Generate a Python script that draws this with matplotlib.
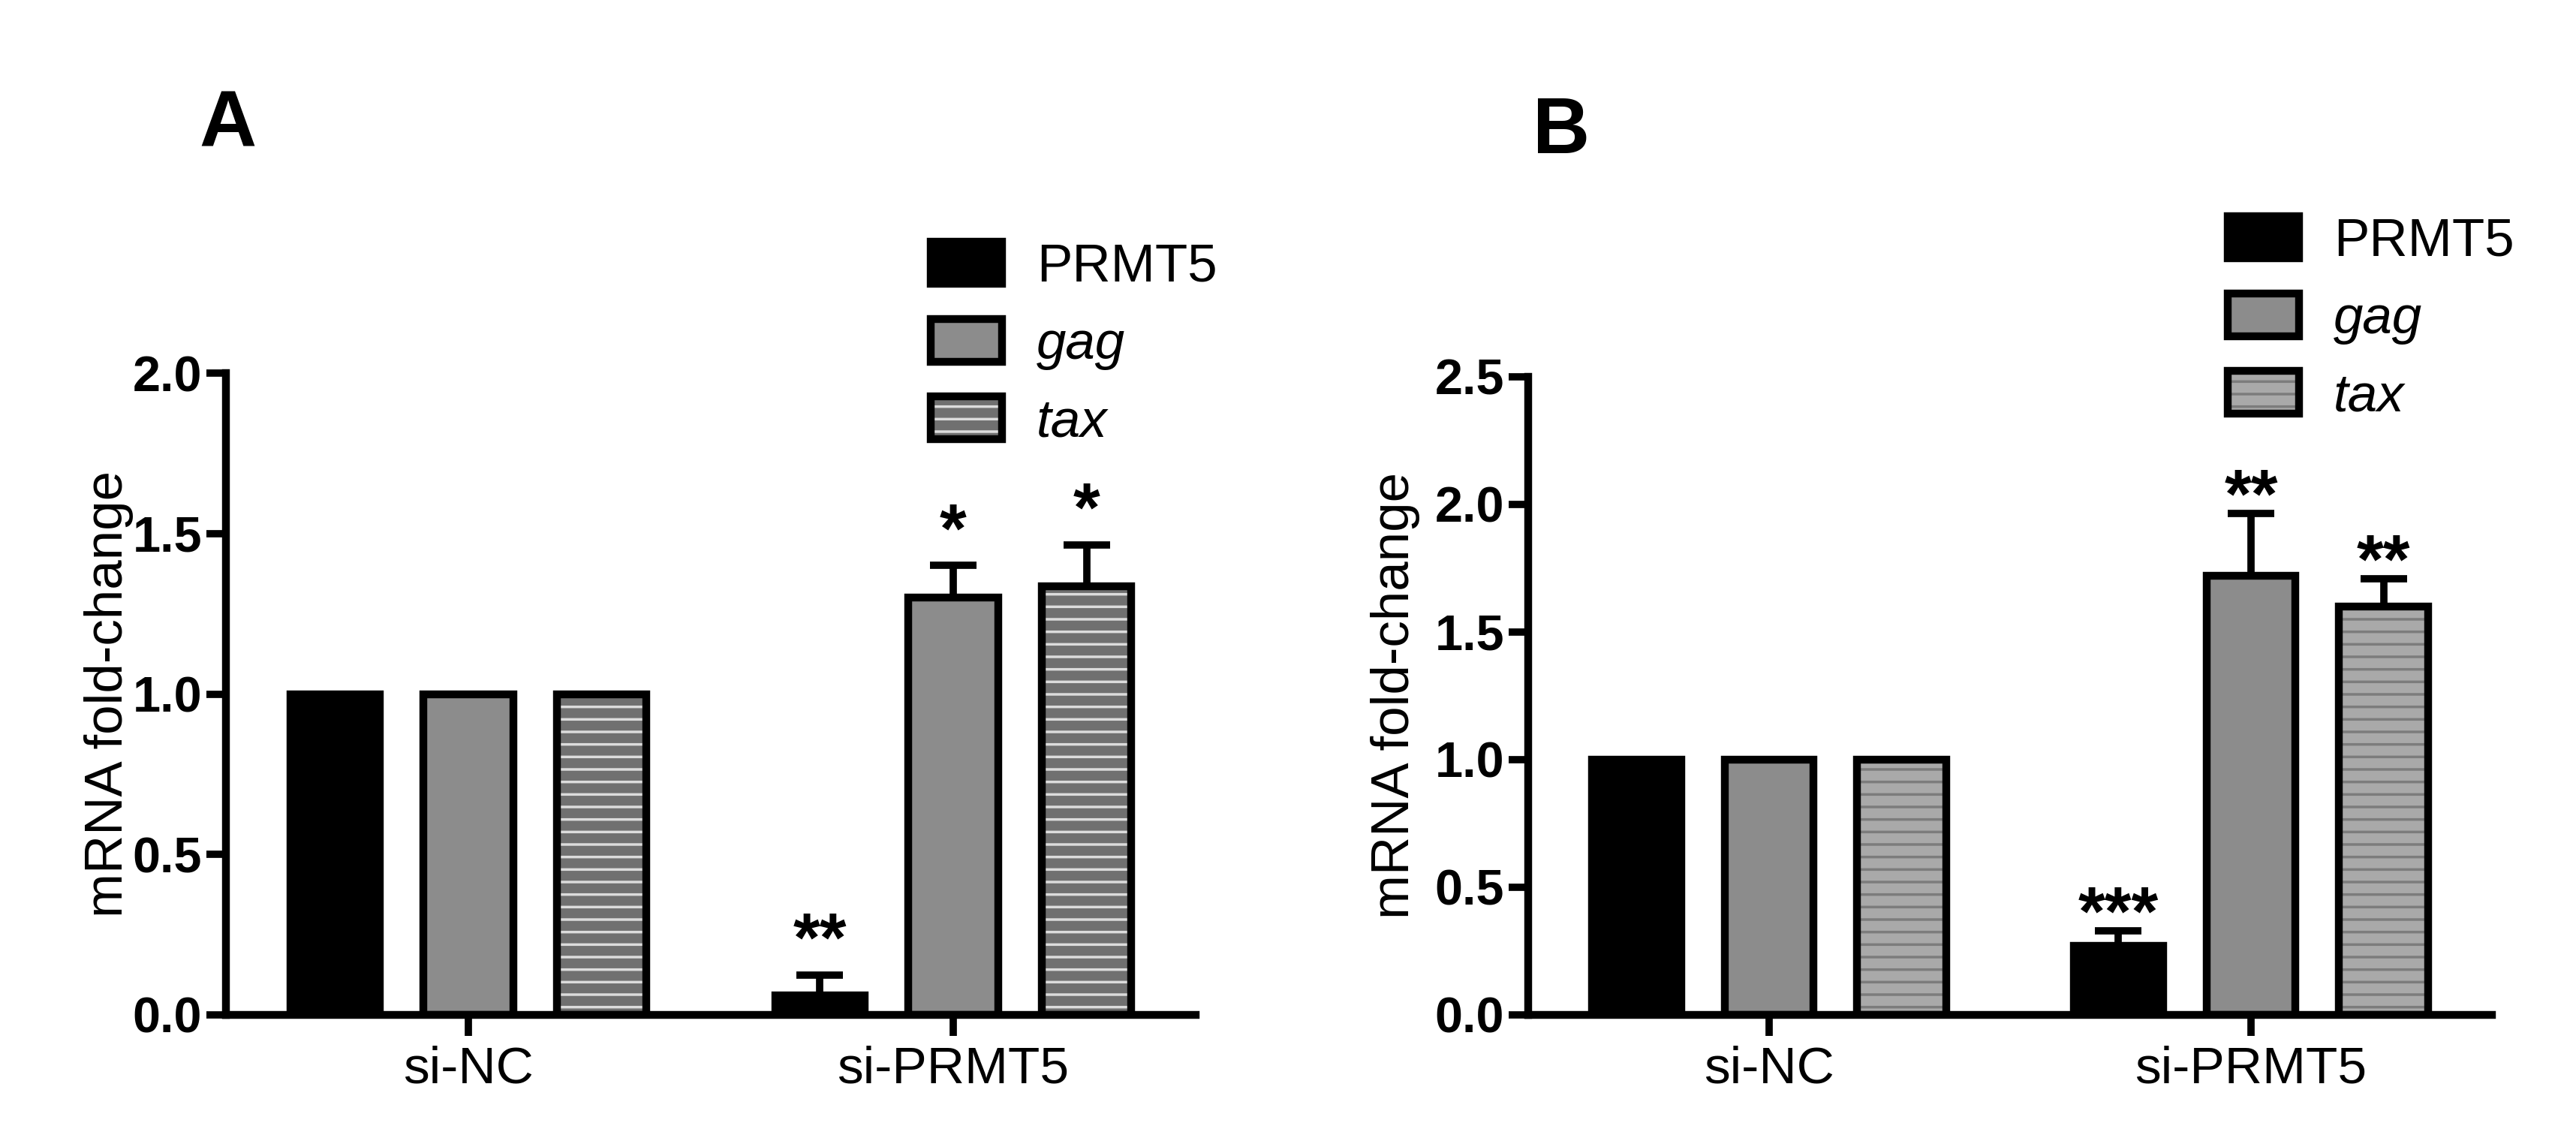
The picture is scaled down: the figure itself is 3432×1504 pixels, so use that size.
import matplotlib
matplotlib.use('Agg')
import matplotlib.pyplot as plt
import numpy as np
from matplotlib.legend_handler import HandlerTuple

plt.rcParams['font.family'] = ['Liberation Sans', 'DejaVu Sans']
plt.rcParams['hatch.linewidth'] = 2.5

groups = ['si-NC', 'si-PRMT5']
genes = ['PRMT5', 'gag', 'tax']

# panel A
a_prmt5 = [1.0, 0.06]
a_gag = [1.0, 1.30]
a_tax = [1.0, 1.335]
a_prmt5_err = [0, 0.065]
a_gag_err = [0, 0.10]
a_tax_err = [0, 0.13]
a_stars = [['', '**'], ['', '*'], ['', '*']]

# panel B
b_prmt5 = [1.0, 0.27]
b_gag = [1.0, 1.72]
b_tax = [1.0, 1.60]
b_prmt5_err = [0, 0.06]
b_gag_err = [0, 0.245]
b_tax_err = [0, 0.11]
b_stars = [['', '***'], ['', '**'], ['', '**']]

offsets = [-0.275, 0, 0.275]
width = 0.185
fills = ['black', '#8c8c8c', None]
tick_family = ['Liberation Sans Narrow', 'Liberation Sans', 'DejaVu Sans']

W, H = 3432, 1504
fig = plt.figure(figsize=(W / 100, H / 100), dpi=100)


def draw_panel(ax, vals, errs, stars, ymax, tax_bg, tax_line, star_dy, label_x, leg_xy):
    x = np.arange(len(groups))
    handles = []
    for i, gene in enumerate(genes):
        xi = x + offsets[i]
        if gene == 'tax':
            fill = ax.bar(xi, vals[i], width, color=tax_bg, edgecolor=tax_line,
                          linewidth=0, hatch='-', zorder=2)
        else:
            fill = ax.bar(xi, vals[i], width, color=fills[i], linewidth=0, zorder=2)
        edge = ax.bar(xi, vals[i], width, fill=False, edgecolor='black',
                      linewidth=7.5, zorder=3)
        handles.append((fill.patches[0], edge.patches[0]))
        for j in range(len(groups)):
            if errs[i][j] > 0:
                ax.errorbar(xi[j], vals[i][j], yerr=[[0], [errs[i][j]]], fmt='none',
                            ecolor='black', elinewidth=7, capsize=22, capthick=7, zorder=1)
            if stars[i][j]:
                ax.annotate(stars[i][j], (xi[j], vals[i][j] + errs[i][j]),
                            xytext=(0, star_dy), textcoords='offset points',
                            ha='center', va='baseline', fontsize=66, fontweight='bold')

    ax.set_xlim(-0.5, 1.5)
    ax.set_ylim(0, ymax)
    ax.set_yticks(np.arange(0, ymax + 0.01, 0.5))
    ax.set_yticklabels(['%.1f' % v for v in np.arange(0, ymax + 0.01, 0.5)],
                       family=tick_family, fontweight='bold', fontsize=48)
    ax.set_xticks(x, groups, fontsize=50)
    for s in ['top', 'right']:
        ax.spines[s].set_visible(False)
    for s in ['left', 'bottom']:
        ax.spines[s].set_linewidth(7.5)
    ax.tick_params(axis='y', length=19, width=7, pad=4)
    ax.tick_params(axis='x', length=20, width=7, pad=9)
    ax.set_ylabel('mRNA fold-change', fontsize=51)
    ax.yaxis.set_label_coords(label_x, 0.5)

    leg = ax.legend(handles, genes, handler_map={tuple: HandlerTuple(ndivide=1)},
                    loc='upper left', bbox_to_anchor=leg_xy, bbox_transform=fig.transFigure,
                    frameon=False, fontsize=51, handlelength=1.34, handleheight=0.85,
                    handletextpad=0.65, labelspacing=0.5, borderpad=0, borderaxespad=0)
    for t, st in zip(leg.get_texts(), ['normal', 'italic', 'italic']):
        t.set_fontstyle(st)


ax_a = fig.add_axes([301 / W, 1 - 1352 / H, 1292 / W, 855 / H])
draw_panel(ax_a, [a_prmt5, a_gag, a_tax], [a_prmt5_err, a_gag_err, a_tax_err], a_stars,
           2.0, '#707070', '#dcdcdc', 13, -0.095, (1240 / W, 1 - 322 / H))

ax_b = fig.add_axes([2036 / W, 1 - 1352 / H, 1284 / W, 850 / H])
draw_panel(ax_b, [b_prmt5, b_gag, b_tax], [b_prmt5_err, b_gag_err, b_tax_err], b_stars,
           2.5, '#a9a9a9', '#7c7c7c', -4, -0.112, (2968 / W, 1 - 288 / H))

fig.text(303 / W, 1 - 168 / H, 'A', fontsize=76, fontweight='bold', ha='center', va='center')
fig.text(2080 / W, 1 - 177 / H, 'B', fontsize=76, fontweight='bold', ha='center', va='center')

fig.savefig('out.png', dpi=100)
